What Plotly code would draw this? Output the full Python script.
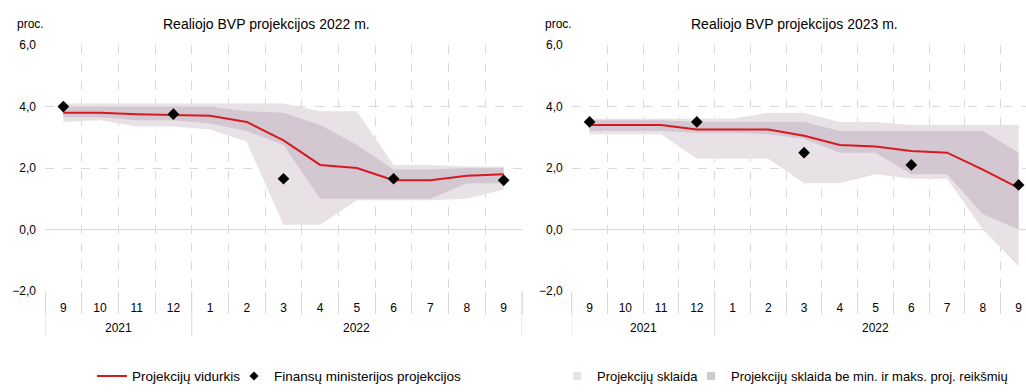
import plotly.graph_objects as go

# Category axis: month of projection and its year
months = ["9", "10", "11", "12", "1", "2", "3", "4", "5", "6", "7", "8", "9"]
years = ["2021"] * 4 + ["2022"] * 9

# Real GDP projections for 2022, %
avg_22 = [3.8, 3.8, 3.75, 3.72, 3.7, 3.5, 2.9, 2.1, 2.0, 1.6, 1.6, 1.75, 1.8]
fin_22 = [4.0, None, None, 3.75, None, None, 1.65, None, None, 1.65, None, None, 1.6]
max_22 = [4.1, 4.1, 4.1, 4.1, 4.1, 4.1, 4.1, 3.85, 3.85, 2.1, 2.1, 2.05, 2.05]
min_22 = [3.5, 3.55, 3.35, 3.35, 3.25, 2.85, 0.15, 0.15, 0.95, 0.95, 0.95, 1.0, 1.3]
imax_22 = [4.0, 4.0, 4.0, 4.0, 4.0, 3.85, 3.8, 3.4, 2.75, 1.95, 1.95, 2.0, 2.0]
imin_22 = [3.65, 3.65, 3.55, 3.55, 3.45, 3.2, 2.75, 1.0, 1.0, 1.0, 1.0, 1.5, 1.5]

# Real GDP projections for 2023, %
avg_23 = [3.4, 3.4, 3.4, 3.25, 3.25, 3.25, 3.05, 2.75, 2.7, 2.55, 2.5, 1.95, 1.35]
fin_23 = [3.5, None, None, 3.5, None, None, 2.5, None, None, 2.1, None, None, 1.45]
max_23 = [3.6, 3.6, 3.6, 3.6, 3.6, 3.8, 3.8, 3.5, 3.5, 3.4, 3.4, 3.4, 3.4]
min_23 = [3.1, 3.1, 3.1, 2.3, 2.3, 2.3, 1.5, 1.5, 1.8, 1.65, 1.65, 0.0, -1.2]
imax_23 = [3.55, 3.55, 3.55, 3.5, 3.5, 3.5, 3.5, 3.2, 3.2, 3.2, 3.2, 3.2, 2.5]
imin_23 = [3.2, 3.2, 3.2, 3.15, 3.15, 3.1, 2.95, 2.5, 2.5, 1.8, 1.8, 0.5, 0.0]

W, H = 1026, 392
FONT = "Liberation Sans, Arial, sans-serif"
GRID = "#d9d9d9"
C_FULL = "#e8e1e6"
C_INNER = "#d3c7d1"
C_LINE = "#d71920"

# category positions on a numeric axis (one slot per month)
idx = list(range(len(months)))
fig = go.Figure()


def add_panel(xa, ya, hi, lo, ihi, ilo, avg, fin):
    kw = dict(x=idx, xaxis=xa, yaxis=ya, hoverinfo="skip", showlegend=False)
    fig.add_trace(go.Scatter(y=hi, mode="lines", line=dict(width=0, color=C_FULL), **kw))
    fig.add_trace(go.Scatter(y=lo, mode="lines", line=dict(width=0, color=C_FULL),
                             fill="tonexty", fillcolor=C_FULL, **kw))
    fig.add_trace(go.Scatter(y=ihi, mode="lines", line=dict(width=0, color=C_INNER), **kw))
    fig.add_trace(go.Scatter(y=ilo, mode="lines", line=dict(width=0, color=C_INNER),
                             fill="tonexty", fillcolor=C_INNER, **kw))
    fig.add_trace(go.Scatter(y=avg, mode="lines", line=dict(width=2, color=C_LINE), **kw))
    fig.add_trace(go.Scatter(y=fin, mode="markers",
                             marker=dict(symbol="diamond", size=9, color="#000000"), **kw))


add_panel("x", "y", max_22, min_22, imax_22, imin_22, avg_22, fin_22)
add_panel("x2", "y2", max_23, min_23, imax_23, imin_23, avg_23, fin_23)

# Legend entries
fig.add_trace(go.Scatter(x=[None], y=[None], mode="lines", name="Projekcijų vidurkis",
                         line=dict(width=2, color=C_LINE), legend="legend", legendwidth=97))
fig.add_trace(go.Scatter(x=[None], y=[None], mode="markers", name="Finansų ministerijos projekcijos",
                         marker=dict(symbol="diamond", size=7, color="#000000"), legend="legend"))
fig.add_trace(go.Scatter(x=[None], y=[None], mode="markers", name="Projekcijų sklaida",
                         marker=dict(symbol="square", size=8, color=C_FULL), legend="legend2",
                         legendwidth=89, xaxis="x2", yaxis="y2"))
fig.add_trace(go.Scatter(x=[None], y=[None], mode="markers",
                         name="Projekcijų sklaida be min. ir maks. proj. reikšmių",
                         marker=dict(symbol="square", size=8, color=C_INNER), legend="legend2",
                         xaxis="x2", yaxis="y2"))

PLOT_TOP, PLOT_BOT = 46, 297
y_dom = [(H - PLOT_BOT) / H, (H - PLOT_TOP) / H]


def xaxis_cfg(x0, x1, rng):
    return dict(domain=[x0 / W, x1 / W], range=rng,
                tickmode="array", tickvals=idx, ticktext=months, ticks="",
                ticklabelstandoff=8,
                showgrid=False, zeroline=False, showline=False, automargin=False,
                minor=dict(tick0=-0.5, dtick=1, ticks="outside", ticklen=22,
                           tickcolor=GRID, showgrid=True, gridcolor=GRID,
                           griddash="dash", gridwidth=1),
                tickfont=dict(family=FONT, size=12, color="#000000"))


def yaxis_cfg(anchor):
    return dict(domain=y_dom, anchor=anchor, range=[-2, 6], dtick=2, tick0=0,
                tickformat=".1f", showgrid=True, gridcolor=GRID, griddash="dash",
                zeroline=True, zerolinecolor=GRID, zerolinewidth=1,
                showline=False, ticks="", ticklabelstandoff=8, automargin=False,
                tickfont=dict(family=FONT, size=12, color="#000000"))


x2_start = 571.7
step2 = 35.75

# year group labels and dividers under each panel
year_groups = []
start = 0
for i in range(1, len(years) + 1):
    if i == len(years) or years[i] != years[start]:
        year_groups.append((years[start], start, i - 1))
        start = i

shapes, annotations = [], []
for xa in ("x", "x2"):
    for yr, a, b in year_groups:
        annotations.append(dict(text=yr, x=(a + b) / 2, xref=xa, y=(H - 335) / H, yref="paper",
                                xanchor="center", yanchor="middle", showarrow=False,
                                font=dict(size=12)))
    bounds = [g[1] - 0.5 for g in year_groups] + [year_groups[-1][2] + 0.5]
    for bx in bounds:
        shapes.append(dict(type="line", xref=xa, yref="paper", x0=bx, x1=bx,
                           y0=(H - PLOT_BOT) / H, y1=(H - 343) / H,
                           line=dict(color=GRID, width=1)))

for text, px, sz, anchor in [("proc.", 15, 12, "left"),
                             ("Realiojo BVP projekcijos 2022 m.", 266, 14, "center"),
                             ("proc.", 543, 12, "left"),
                             ("Realiojo BVP projekcijos 2023 m.", 794, 14, "center")]:
    annotations.append(dict(text=text, x=px / W, y=(H - 24) / H, xref="paper", yref="paper",
                            xanchor=anchor, yanchor="middle", showarrow=False,
                            font=dict(size=sz)))

fig.update_layout(
    width=W, height=H,
    margin=dict(l=0, r=0, t=0, b=0),
    paper_bgcolor="#ffffff", plot_bgcolor="#ffffff",
    separators=", ",
    font=dict(family=FONT, size=12, color="#000000"),
    xaxis=xaxis_cfg(45, 522, [-0.5, 12.5]),
    yaxis=yaxis_cfg("x"),
    xaxis2=dict(xaxis_cfg(x2_start, W, [-0.5, -0.5 + (W - x2_start) / step2]), anchor="y2"),
    yaxis2=yaxis_cfg("x2"),
    legend=dict(orientation="h", x=92 / W, xanchor="left", y=(H - 384) / H, yanchor="middle",
                traceorder="normal", font=dict(family=FONT, size=13.5), itemwidth=30,
                bgcolor="rgba(0,0,0,0)"),
    legend2=dict(orientation="h", x=557 / W, xanchor="left", y=(H - 384) / H, yanchor="middle",
                 traceorder="normal", font=dict(family=FONT, size=13), itemwidth=30,
                 bgcolor="rgba(0,0,0,0)"),
    shapes=shapes,
    annotations=annotations,
)

fig.write_html("out.html")
